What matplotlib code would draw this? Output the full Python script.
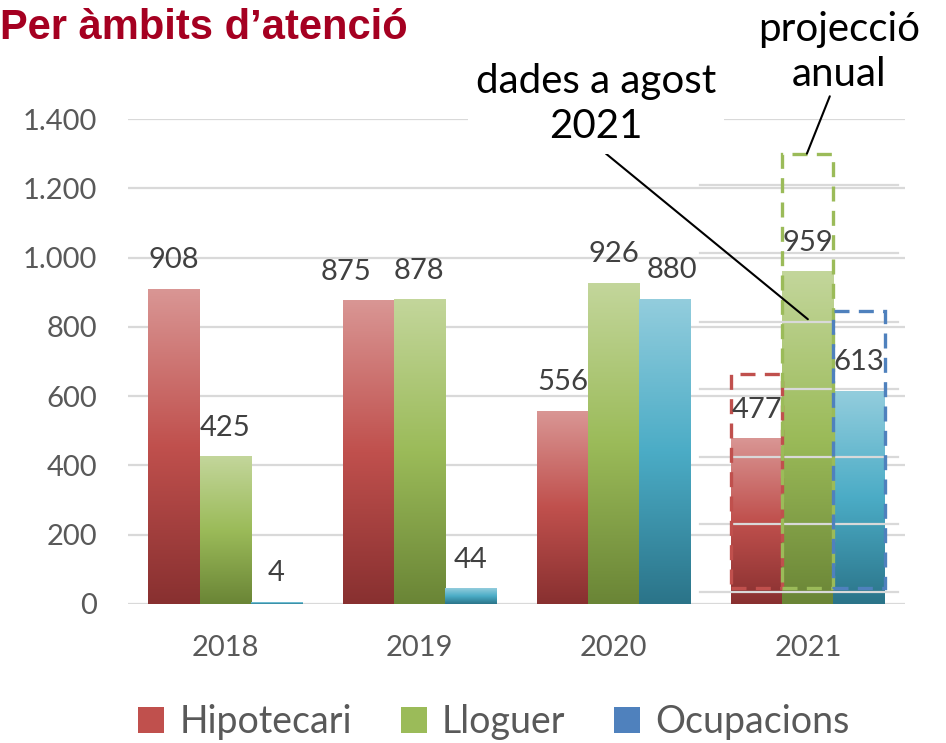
import matplotlib

matplotlib.use("Agg")
import matplotlib.pyplot as plt
import numpy as np
from matplotlib.colors import LinearSegmentedColormap
from matplotlib.patches import Patch, Rectangle

# data
years = ["2018", "2019", "2020", "2021"]
series = ["Hipotecari", "Lloguer", "Ocupacions"]
hipotecari = [908, 875, 556, 477]
lloguer = [425, 878, 926, 959]
ocupacions = [4, 44, 880, 613]
projeccio_2021 = [665, 1300, 845]   # dashed boxes (annual projection)
projeccio_base = 45
yticks = [0, 200, 400, 600, 800, 1000, 1200, 1400]
overlay_grid = [35, 231, 424, 621, 814, 1013, 1210]  # pasted-in grid over 2021

TITLE_RED = "#a50021"
TEXT = "#595959"
GRID = "#d9d9d9"
LEGEND_COLORS = ["#c0504d", "#9bbb59", "#4f81bd"]
DASH_COLORS = ["#c0504d", "#9bbb59", "#4f81bd"]
GRADS = [
    ["#883030", "#c0504d", "#d99694"],
    ["#6a8536", "#9bbb59", "#c3d69b"],
    ["#2b7489", "#4bacc6", "#93cddd"],
]
NUM_FONT = ["Lato", "DejaVu Sans"]
# label nudges (points) where Excel shifted a label sideways to avoid overlap
nudge = {(0, 1): -16, (2, 2): 5}

fig = plt.figure(figsize=(9.46, 7.43), dpi=100)
ax = fig.add_axes([128 / 946, 1 - 604 / 743, 777 / 946, 485 / 743])

w = 0.263
x = np.arange(len(years))
grad = np.linspace(0, 1, 256).reshape(-1, 1)

for k, vals in enumerate([hipotecari, lloguer, ocupacions]):
    cmap = LinearSegmentedColormap.from_list(f"g{k}", GRADS[k])
    for i, v in enumerate(vals):
        xc = x[i] + (k - 1) * w
        ax.imshow(grad, cmap=cmap, origin="lower", aspect="auto",
                  extent=[xc - w / 2, xc + w / 2, 0, v], zorder=2)
        ax.annotate(f"{v}", (xc, v), xytext=(nudge.get((k, i), 0), 21),
                    textcoords="offset points", ha="center", va="center",
                    fontsize=21, color="#404040", family=NUM_FONT, zorder=5)

# projection boxes for 2021
for k, top in enumerate(projeccio_2021):
    xc = x[3] + (k - 1) * w
    ax.add_patch(Rectangle((xc - w / 2, projeccio_base), w, top - projeccio_base,
                           fill=False, edgecolor=DASH_COLORS[k], linewidth=2.4,
                           linestyle=(0, (4.5, 2.8)), zorder=4, clip_on=False))

# offset grid lines of the pasted 2021 block
for g in overlay_grid:
    ax.axhline(g, xmin=0.736, xmax=0.991, color=GRID, linewidth=1.6, zorder=3)

ax.set_xlim(-0.5, 3.5)
ax.set_ylim(0, 1400)
ax.set_yticks(yticks)
ax.set_yticklabels([f"{t:,}".replace(",", ".") for t in yticks])
ax.set_xticks(x)
ax.set_xticklabels(years)
ax.tick_params(length=0, labelsize=21, colors=TEXT)
ax.tick_params(axis="y", pad=22)
ax.tick_params(axis="x", pad=22)
for lab in ax.get_xticklabels() + ax.get_yticklabels():
    lab.set_family(NUM_FONT)
ax.grid(axis="y", color=GRID, linewidth=1.6, zorder=0)
ax.set_axisbelow(True)
for s in ax.spines.values():
    s.set_visible(False)

# title
fig.text(0.0, 1 - 28 / 743, "Per àmbits d’atenció", fontsize=30, fontweight="bold",
         color=TITLE_RED, family=["Liberation Sans", "DejaVu Sans"], va="center", ha="left")

# annotations
ax.annotate("dades a agost\n2021", xy=(x[3], 822), xycoords="data",
            xytext=(596 / 946, 1 - 104 / 743), textcoords="figure fraction",
            ha="center", va="center", fontsize=29, linespacing=1.3, family=NUM_FONT,
            bbox=dict(boxstyle="square,pad=0.2", fc="white", ec="none"),
            arrowprops=dict(arrowstyle="-", color="black", lw=1.5,
                            shrinkA=0, shrinkB=0, relpos=(0.5, 0.0)), zorder=6,
            annotation_clip=False)
ax.annotate("projecció\nanual", xy=(x[3] - 0.005, 1300), xycoords="data",
            xytext=(839 / 946, 1 - 52 / 743), textcoords="figure fraction",
            ha="center", va="center", fontsize=29, linespacing=1.3, family=NUM_FONT,
            arrowprops=dict(arrowstyle="-", color="black", lw=1.5,
                            shrinkA=0, shrinkB=0, relpos=(0.45, 0.0)), zorder=6,
            annotation_clip=False)

handles = [Patch(facecolor=c, edgecolor="none") for c in LEGEND_COLORS]
fig.legend(handles, series, loc="center", bbox_to_anchor=(494 / 946, 1 - 722 / 743),
           ncol=3, frameon=False, handlelength=0.7, handleheight=0.7, handletextpad=0.4,
           columnspacing=1.3, prop={"family": NUM_FONT, "size": 27}, labelcolor=TEXT)

fig.savefig("out.png", dpi=100, facecolor="white")
